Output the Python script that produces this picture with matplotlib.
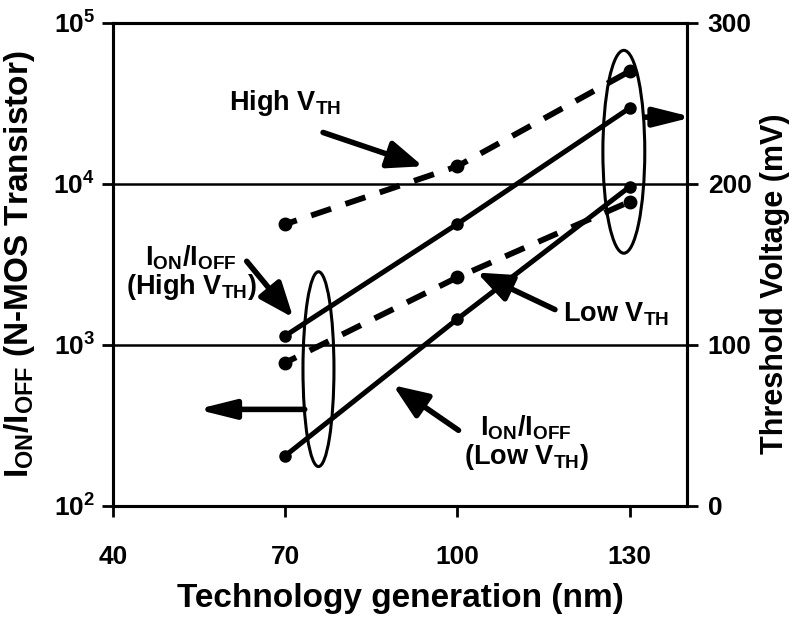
import numpy as np
import matplotlib.pyplot as plt
from matplotlib.patches import Ellipse

plt.rcParams['font.family'] = ['Liberation Sans', 'DejaVu Sans']
plt.rcParams['font.weight'] = 'bold'
plt.rcParams['mathtext.fontset'] = 'custom'
plt.rcParams['mathtext.rm'] = 'Liberation Sans:bold'
plt.rcParams['mathtext.bf'] = 'Liberation Sans:bold'
plt.rcParams['mathtext.it'] = 'Liberation Sans:bold'
plt.rcParams['mathtext.default'] = 'rm'

# technology node (nm)
gen = [70, 100, 130]

# Ion/Ioff ratio (left, log scale)
ratio_high_vth = [1140, 5650, 29600]
ratio_low_vth = [205, 1450, 9600]

# threshold voltage in mV (right axis)
vth_high = [175, 211, 270]
vth_low = [89, 142, 189]

x_ticks = [40, 70, 100, 130]
left_ticks = [1e2, 1e3, 1e4, 1e5]
left_labels = [r'10$^{2}$', r'10$^{3}$', r'10$^{4}$', r'10$^{5}$']
right_ticks = [0, 100, 200, 300]

fig = plt.figure(figsize=(7.94, 6.21), dpi=100)
ax = fig.add_axes([0.1423, 0.1852, 0.7229, 0.7778])
ax2 = ax.twinx()

ax.set_xlim(40, 140)
ax.set_yscale('log')
ax.set_ylim(1e2, 1e5)
ax2.set_ylim(0, 300)

# solid lines: on/off ratio
ax.plot(gen, ratio_high_vth, color='k', lw=3.6, marker='o', ms=8, solid_capstyle='butt')
ax.plot(gen, ratio_low_vth, color='k', lw=3.6, marker='o', ms=8, solid_capstyle='butt')

# dashed lines: threshold voltage
ax2.plot(gen, vth_high, color='k', lw=4.2, ls=(1.5, (3.6, 2.6)), marker='o', ms=9, dash_capstyle='butt')
ax2.plot(gen, vth_low, color='k', lw=4.2, ls=(1.5, (3.6, 2.6)), marker='o', ms=9, dash_capstyle='butt')

# horizontal grid at the decades
ax.set_yticks(left_ticks)
ax.set_yticklabels(left_labels)
ax.yaxis.set_minor_locator(plt.NullLocator())
ax.grid(axis='y', color='k', lw=1.8)
ax.set_xticks(x_ticks)
ax2.set_yticks(right_ticks)

for a in (ax, ax2):
    for s in a.spines.values():
        s.set_linewidth(2.2)
ax.tick_params(axis='both', direction='out', length=8, width=2, labelsize=19)
ax.tick_params(axis='x', pad=20)
ax.tick_params(axis='y', pad=5)
ax2.tick_params(axis='y', direction='out', length=8, width=2, labelsize=19, pad=7)

ax.set_xlabel('Technology generation (nm)', fontsize=24, fontweight='bold', labelpad=10)
ax.set_ylabel(r'I$_{\rm ON}$/I$_{\rm OFF}$ (N-MOS Transistor)', fontsize=24, fontweight='bold')
ax.yaxis.set_label_coords(-0.132, 0.50)
ax2.set_ylabel('Threshold Voltage (mV)', fontsize=22, fontweight='bold', rotation=90)
ax2.yaxis.set_label_coords(1.127, 0.46)

# grouping ellipses and side arrows
ax2.add_patch(Ellipse((75.8, 85), 5.4, 121, fill=False, lw=2.2, ec='k'))
ax2.add_patch(Ellipse((129.0, 220), 7.3, 126, fill=False, lw=2.2, ec='k'))

side_arrow = dict(arrowstyle='-|>,head_length=0.8,head_width=0.2', lw=4, color='k',
                  mutation_scale=28, shrinkA=0, shrinkB=0)
ax2.annotate('', xy=(54.6, 60), xytext=(73.4, 60), arrowprops=side_arrow)
ax2.annotate('', xy=(141.0, 241.5), xytext=(132.7, 241.5), arrowprops=side_arrow,
             annotation_clip=False)

label_arrow = dict(arrowstyle='-|>,head_length=0.75,head_width=0.3', lw=4, color='k',
                   mutation_scale=28, shrinkA=0, shrinkB=0)
fs = 19.5
ax2.annotate('', xy=(94.0, 211), xytext=(76.6, 232), arrowprops=label_arrow)
ax2.text(70.0, 250, r'High V$_{\rm TH}$', fontsize=fs, ha='center', va='center')

ax2.annotate('', xy=(71.4, 117), xytext=(63.3, 152), arrowprops=label_arrow)
ax2.text(53.6, 145, 'I$_{\\rm ON}$/I$_{\\rm OFF}$\n(High V$_{\\rm TH}$)', fontsize=fs,
         ha='center', va='center', linespacing=1.0)

ax2.annotate('', xy=(103.4, 145), xytext=(117.0, 122), arrowprops=label_arrow)
ax2.text(127.6, 119, r'Low V$_{\rm TH}$', fontsize=fs, ha='center', va='center')

ax2.annotate('', xy=(88.8, 75), xytext=(100.2, 47), arrowprops=label_arrow)
ax2.text(112.0, 39, 'I$_{\\rm ON}$/I$_{\\rm OFF}$\n(Low V$_{\\rm TH}$)', fontsize=fs,
         ha='center', va='center', linespacing=1.0)

fig.savefig('out.png', dpi=100)
